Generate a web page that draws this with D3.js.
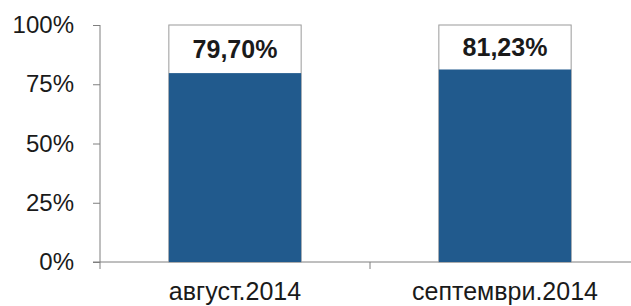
<!DOCTYPE html>
<html>
<head>
<meta charset="utf-8">
<script src="https://cdn.jsdelivr.net/npm/d3@7"></script>
<style>
  body { margin: 0; background: #fff; }
  svg { display: block; font-family: "Liberation Sans", Arial, sans-serif; }
  .axis path, .axis line { stroke: #7f7f7f; }
  .axis text { fill: #1a1a1a; font-size: 24px; }
</style>
</head>
<body>
<div id="chart"></div>
<script>
var months = ['август.2014', 'септември.2014'];
var shares = [0.7970, 0.8123];
var shareLabels = ['79,70%', '81,23%'];
var yTicks = [0, 0.25, 0.5, 0.75, 1];

var width = 631, height = 306;
var margin = {top: 25, right: -9, bottom: 44, left: 100};
var chartWidth = width - margin.left - margin.right;
var chartHeight = height - margin.top - margin.bottom;

var svg = d3.select('#chart').append('svg')
	.attr('width', width)
	.attr('height', height)
	.append('g')
		.attr('transform', `translate(${margin.left}, ${margin.top})`);

var xScale = d3.scaleBand()
	.domain(months)
	.range([0, chartWidth])
	.paddingInner(0.51)
	.paddingOuter(0.255);

var yScale = d3.scaleLinear()
	.domain([0, 1])
	.range([chartHeight, 0]);

var yAxis = d3.axisLeft(yScale)
	.tickValues(yTicks)
	.tickFormat(d => Math.round(d * 100) + '%')
	.tickSize(7)
	.tickPadding(19);

var gy = svg.append('g')
	.attr('class', 'y axis')
	.call(yAxis);
gy.select('.domain').attr('d', `M0,0V${chartHeight}`);

// category boundary ticks below the x axis
var xBounds = d3.scaleLinear().domain([0, months.length]).range([0, chartWidth]);
var gx = svg.append('g')
	.attr('class', 'x axis')
	.attr('transform', `translate(0, ${chartHeight})`);
gx.append('path')
	.attr('d', `M-7,0H${chartWidth}`)
	.attr('stroke', '#7f7f7f')
	.attr('fill', 'none');
gx.selectAll('.bound')
	.data(d3.range(months.length + 1))
	.enter()
	.append('line')
	.attr('class', 'bound')
	.attr('x1', d => xBounds(d))
	.attr('x2', d => xBounds(d))
	.attr('y1', 0)
	.attr('y2', 7);
gx.selectAll('.cat')
	.data(months)
	.enter()
	.append('text')
	.attr('class', 'cat')
	.attr('x', d => xScale(d) + xScale.bandwidth() / 2)
	.attr('y', 38)
	.attr('text-anchor', 'middle')
	.attr('fill', '#1a1a1a')
	.style('font-size', '25px')
	.text(d => d);

// white box up to 100%
svg.selectAll('.box')
	.data(months)
	.enter()
	.append('rect')
	.attr('class', 'box')
	.attr('x', d => xScale(d))
	.attr('y', yScale(1))
	.attr('width', xScale.bandwidth())
	.attr('height', chartHeight - yScale(1))
	.attr('fill', '#fff')
	.attr('stroke', '#9a9a9a')
	.attr('stroke-width', 1);

svg.selectAll('.bar')
	.data(shares)
	.enter()
	.append('rect')
	.attr('class', 'bar')
	.attr('x', (d, i) => xScale(months[i]))
	.attr('y', d => yScale(d))
	.attr('width', xScale.bandwidth())
	.attr('height', d => chartHeight - yScale(d))
	.attr('fill', '#215a8d');

svg.selectAll('.val')
	.data(shares)
	.enter()
	.append('text')
	.attr('class', 'val')
	.attr('x', (d, i) => xScale(months[i]) + xScale.bandwidth() / 2)
	.attr('y', d => (yScale(1) + yScale(d)) / 2 + 9)
	.attr('text-anchor', 'middle')
	.attr('fill', '#1a1a1a')
	.style('font-size', '25px')
	.style('font-weight', 'bold')
	.text((d, i) => shareLabels[i]);
</script>
</body>
</html>
